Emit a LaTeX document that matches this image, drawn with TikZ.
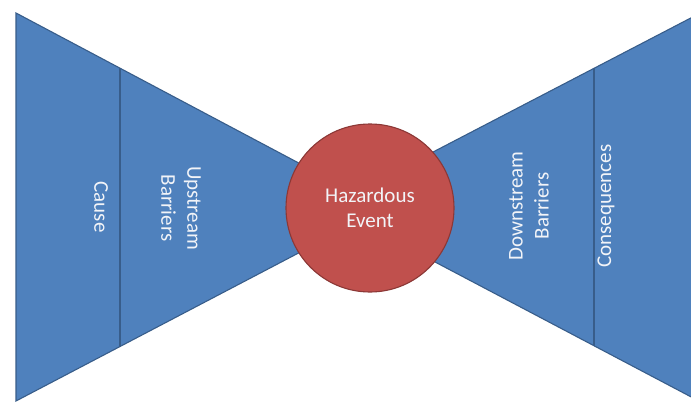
\documentclass[tikz,border=0pt]{standalone}
\usepackage{fontspec}
\setmainfont{Carlito}
\definecolor{bowblue}{HTML}{4F81BD}
\definecolor{bowblueline}{HTML}{385D8A}
\definecolor{bowred}{HTML}{C0504D}
\definecolor{bowredline}{HTML}{8C3836}
\definecolor{bowtext}{HTML}{F2F4F8}
\tikzset{
  wing/.style={fill=bowblue, draw=bowblueline, line width=1.1pt, line join=miter},
  divider/.style={draw=bowblueline, line width=1.1pt},
  lbl/.style={text=bowtext, font=\fontsize{21}{26}\selectfont, align=center, inner sep=0pt},
  event/.style={circle, fill=bowred, draw=bowredline, line width=1.1pt, minimum size=168pt, inner sep=0pt,
    text=bowtext, font=\fontsize{21}{26}\selectfont, align=center}
}
\begin{document}
\begin{tikzpicture}[x=1pt, y=-1pt]
  \useasboundingbox (0,0) rectangle (691,404);
  \fill[white] (0,0) rectangle (691,404);
  \begin{scope}
    \clip (0,0) rectangle (691,404);
    % left wing
    \draw[wing] (16,13) -- (310,169) -- (310,247) -- (16,401) -- cycle;
    \coordinate (lt) at (120,68.2);
    \coordinate (lb) at (120,346.5);
    \draw[divider] (lt) -- (lb);
    % right wing
    \draw[wing] (425,156.2) -- (700,13.2) -- (700,401.6) -- (425,256.7) -- cycle;
    \coordinate (rt) at (594,68.4);
    \coordinate (rb) at (594,345.7);
    \draw[divider] (rt) -- (rb);
  \end{scope}
  \node[event] (ev) at (370,208) {Hazardous\\[-1pt]Event};
  \node[lbl, rotate=-90] (cause) at (101,207) {Cause};
  \node[lbl, rotate=-90] (up) at (181,208) {Upstream\\Barriers};
  \node[lbl, rotate=90] (down) at (529,206) {Downstream\\Barriers};
  \node[lbl, rotate=90] (cons) at (606,206) {Consequences};
\end{tikzpicture}
\end{document}
